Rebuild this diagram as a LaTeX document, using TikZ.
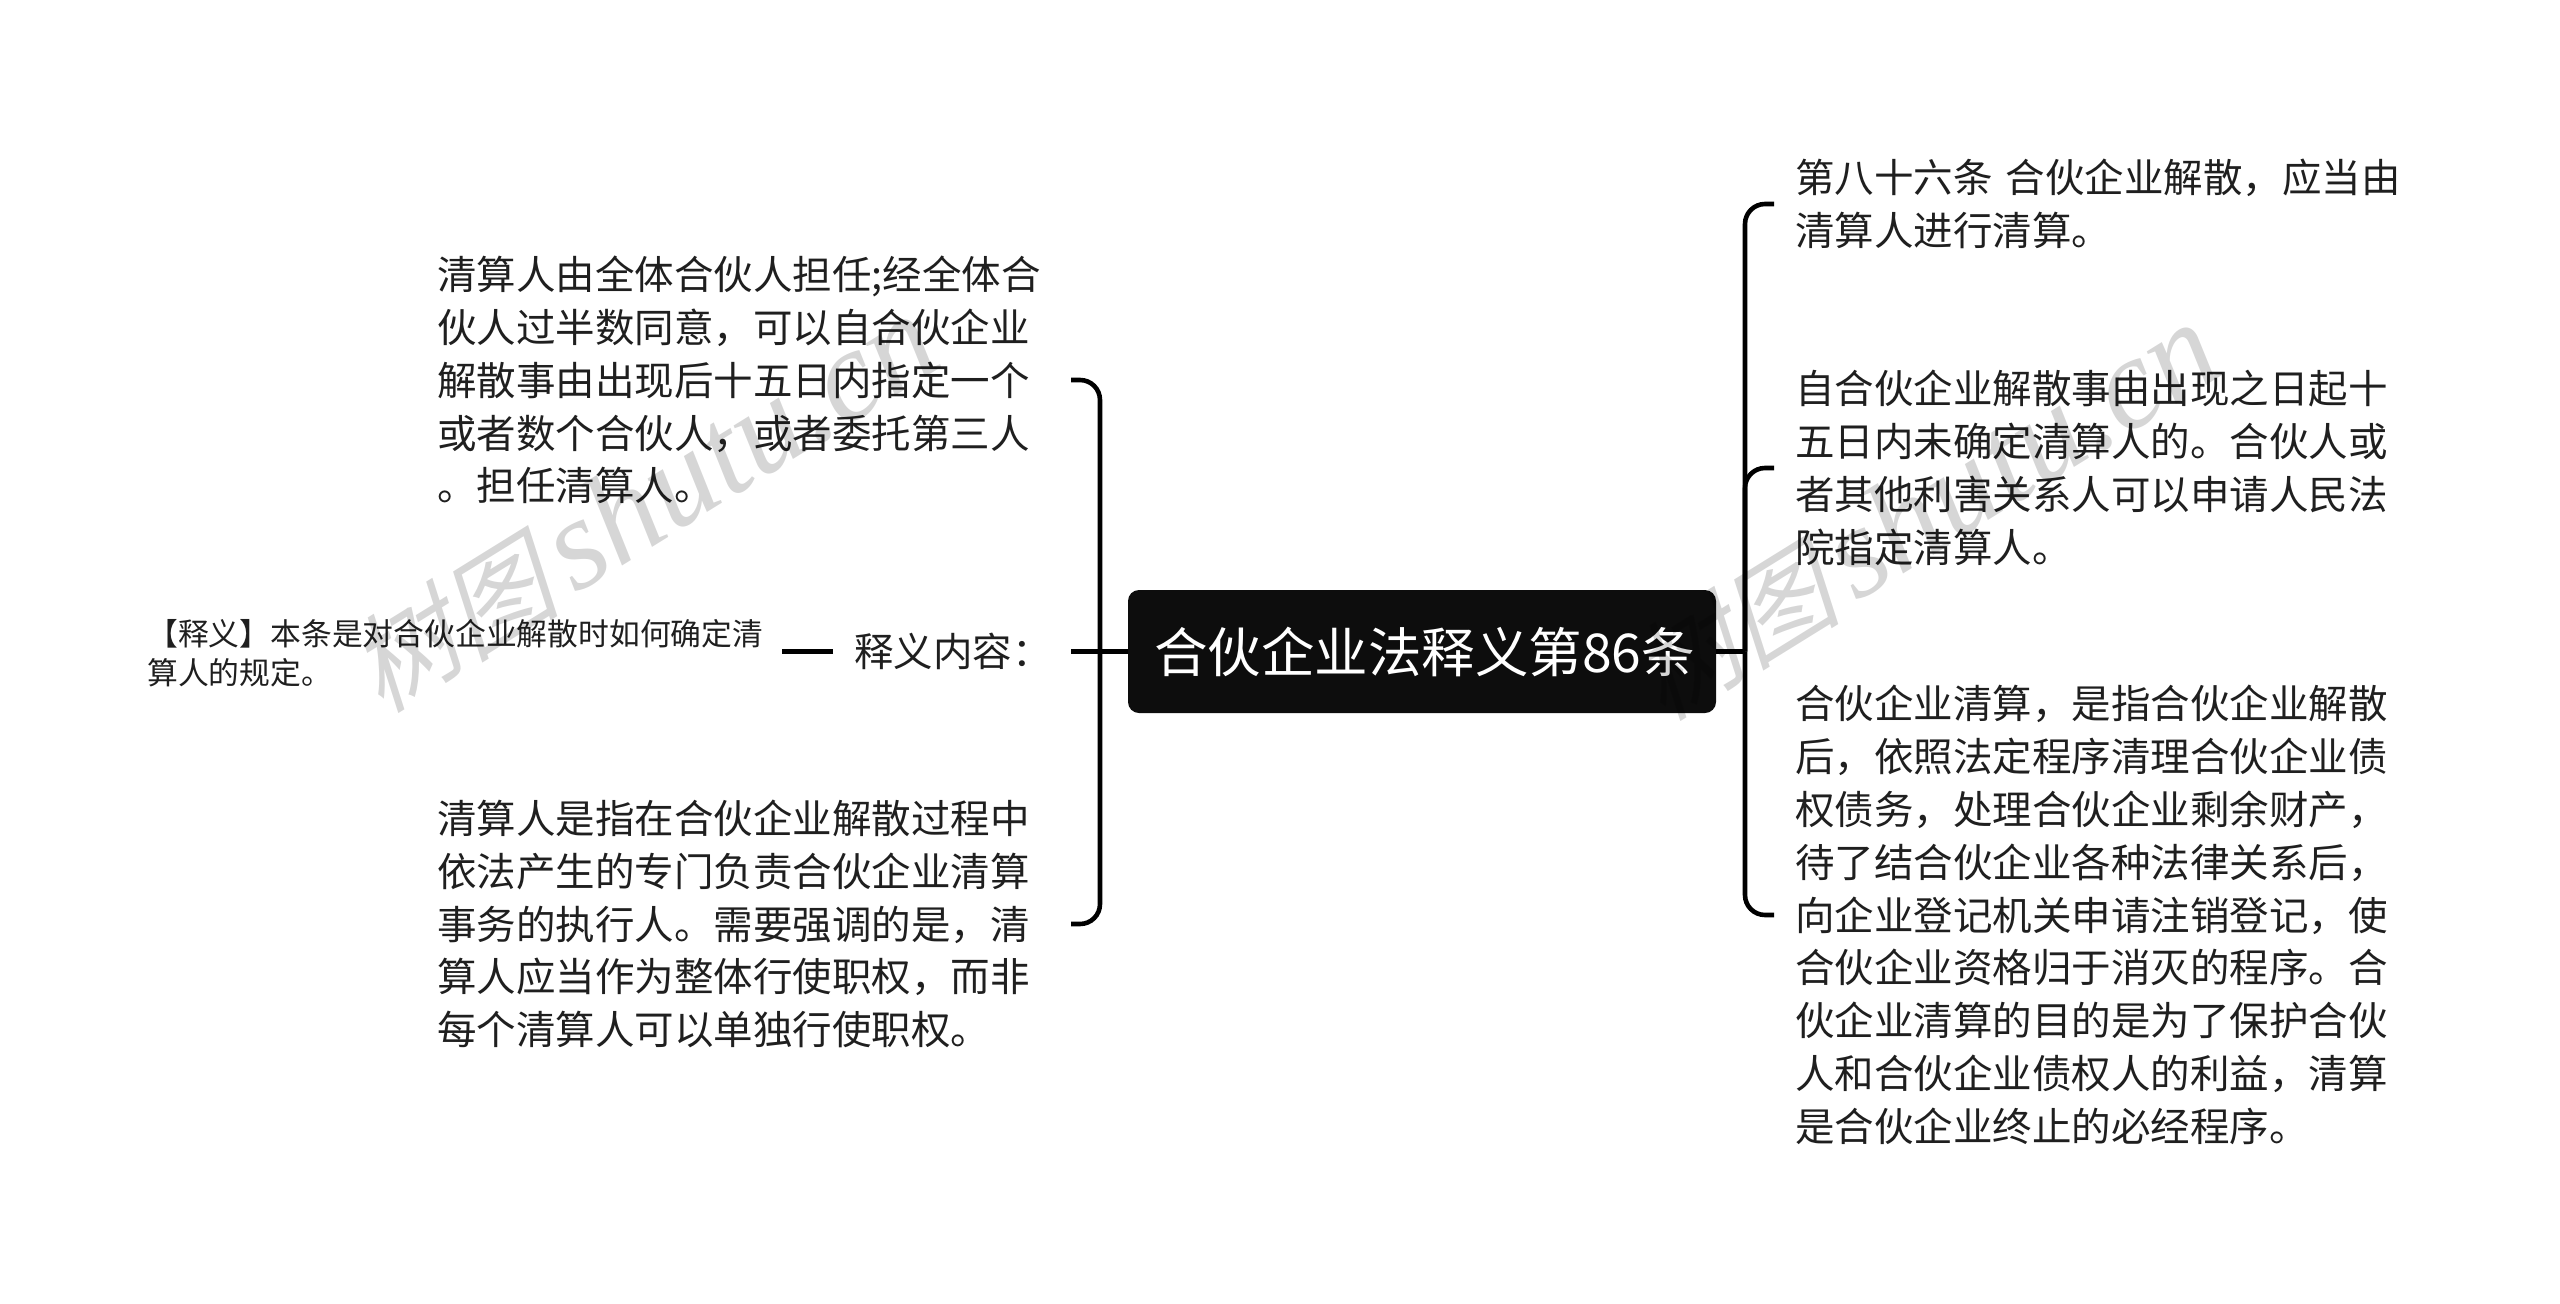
\documentclass[tikz,border=0pt]{standalone}
\usepackage{fontspec}
\setmainfont{Noto Sans CJK SC}
\newfontfamily\markfont[FakeSlant=0.25]{Noto Sans CJK SC}
\newfontfamily\marklatin{Liberation Serif}
\begin{document}
\begin{tikzpicture}[x=1pt,y=-1pt]
      \tikzstyle{root}=[fill=black!95,rounded corners=11pt,text=white,minimum width=588pt,minimum height=123pt,inner sep=0pt,font=\fontsize{53.5}{60}\selectfont]
      \tikzstyle{topic}=[inner sep=0pt,anchor=west,align=left,text=black!88,font=\fontsize{39.5}{52.8}\selectfont]
      \tikzstyle{note}=[inner sep=0pt,anchor=west,align=left,text=black!88,font=\fontsize{30.8}{39.5}\selectfont]
      \tikzstyle{branch}=[draw,line width=4.6pt,rounded corners=20pt]
      \tikzstyle{wmark}=[black,opacity=0.16,rotate=31.8,inner sep=0pt]
      \newcommand{\markhan}{\fontsize{106}{119}\selectfont\markfont 树图}
      \newcommand{\marksite}{\fontsize{130}{130}\selectfont\marklatin\itshape shutu.cn}
      \useasboundingbox (0,0) rectangle (2560,1304);
      \node[root] (main) at (1422,651.5) {\hspace{5pt}合伙企业法释义第86条};
      \node[topic] (R1) at (1795,204) {第八十六条\hspace{13pt}合伙企业解散，应当由\\清算人进行清算。};
      \node[topic] (R2) at (1795,468) {自合伙企业解散事由出现之日起十\\五日内未确定清算人的。合伙人或\\者其他利害关系人可以申请人民法\\院指定清算人。};
      \node[topic] (R3) at (1795,915) {合伙企业清算，是指合伙企业解散\\后，依照法定程序清理合伙企业债\\权债务，处理合伙企业剩余财产，\\待了结合伙企业各种法律关系后，\\向企业登记机关申请注销登记，使\\合伙企业资格归于消灭的程序。合\\伙企业清算的目的是为了保护合伙\\人和合伙企业债权人的利益，清算\\是合伙企业终止的必经程序。};
      \node[topic] (L1) at (437,380) {清算人由全体合伙人担任;经全体合\\伙人过半数同意，可以自合伙企业\\解散事由出现后十五日内指定一个\\或者数个合伙人，或者委托第三人\\。担任清算人。};
      \node[topic] (L2) at (854,651.5) {释义内容：};
      \node[topic] (L3) at (437,924) {清算人是指在合伙企业解散过程中\\依法产生的专门负责合伙企业清算\\事务的执行人。需要强调的是，清\\算人应当作为整体行使职权，而非\\每个清算人可以单独行使职权。};
      \node[note] (N1) at (147,653) {【释义】本条是对合伙企业解散时如何确定清\\算人的规定。};
      \coordinate (JL) at (1100,651.5);
      \coordinate (JR) at (1745,651.5);
      \coordinate (SL) at (1071,651.5);
      \path[branch] (main.west) -- (SL);
      \path[branch] (JL) |- (SL |- L1.east);
      \path[branch] (JL) |- (SL |- L3.east);
      \path[branch] (main.east) -- (JR);
      \path[branch] (JR) |- ([xshift=-21pt]R1.west);
      \path[branch] (JR) |- ([xshift=-21pt]R2.west);
      \path[branch] (JR) |- ([xshift=-21pt]R3.west);
      \path[branch,line width=5.5pt] ([xshift=-21pt]L2.west) -- ([xshift=19pt]N1.east |- L2.west);
      \node[wmark] (W1) at (643,505) {{\markhan}\hspace{16pt}{\marksite}};
      \node[wmark] (W2) at (1924,513) {{\markhan}\hspace{16pt}{\marksite}};
    \end{tikzpicture}
\end{document}
